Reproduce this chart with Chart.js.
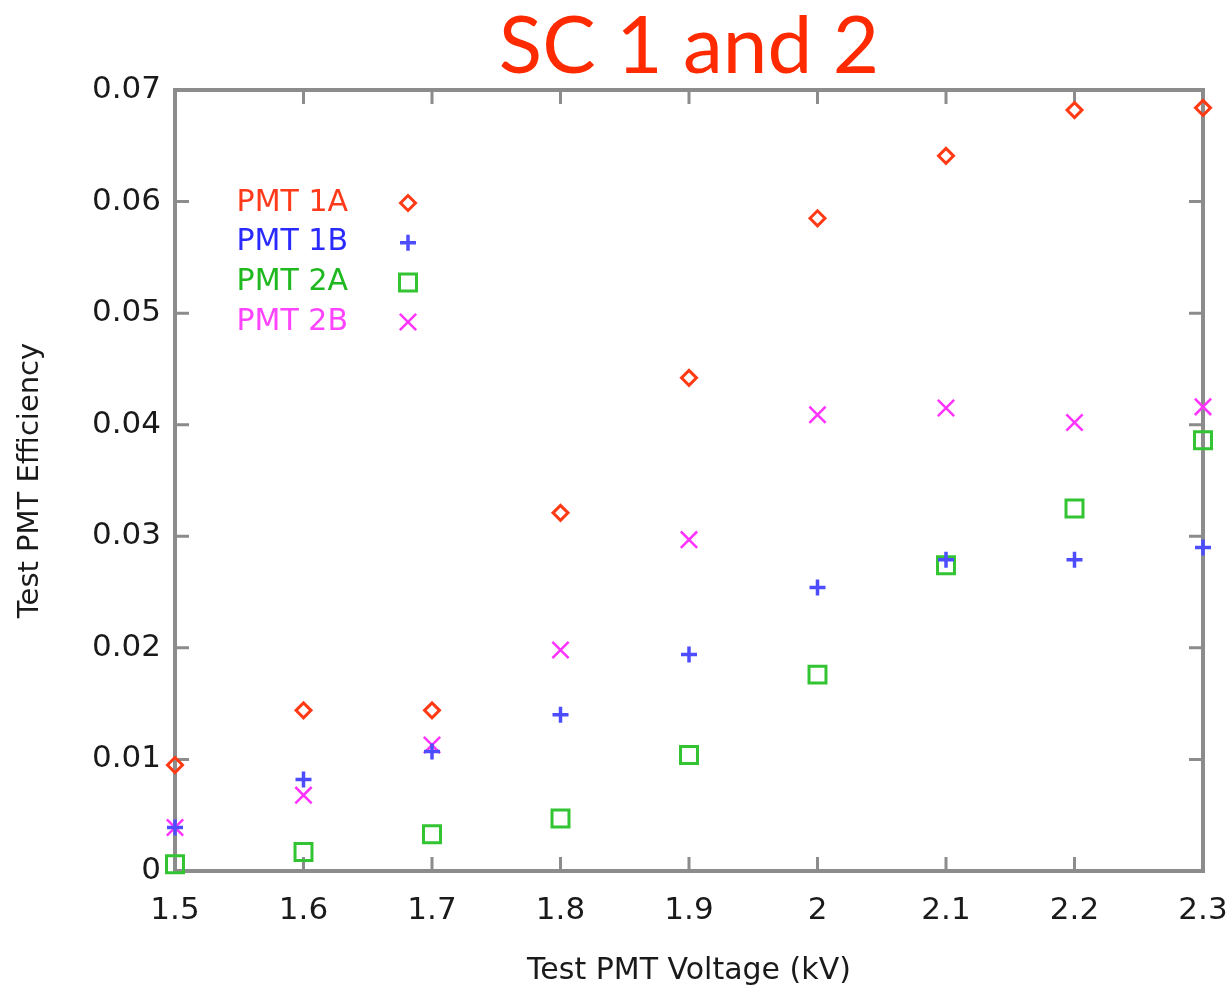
<!DOCTYPE html>
<html>
<head>
<meta charset="utf-8">
<script src="https://cdn.jsdelivr.net/npm/chart.js@4/dist/chart.umd.min.js"></script>
<style>
  html, body { margin: 0; padding: 0; background: #ffffff; }
  #wrap { width: 1230px; height: 989px; }
</style>
</head>
<body>
<div id="wrap"><canvas id="c" width="1230" height="989"></canvas></div>
<script>
// ---- data ----
const voltages = [1.5, 1.6, 1.7, 1.8, 1.9, 2.0, 2.1, 2.2, 2.3];
const pmt1A = [0.0095, 0.0144, 0.0144, 0.0321, 0.0442, 0.0585, 0.0641, 0.0682, 0.0684];
const pmt1B = [0.0039, 0.0082, 0.0107, 0.0140, 0.0194, 0.0254, 0.0279, 0.0279, 0.0290];
const pmt2A = [0.0006, 0.0017, 0.0033, 0.0047, 0.0104, 0.0176, 0.0274, 0.0325, 0.0386];
const pmt2B = [0.0039, 0.0068, 0.0113, 0.0198, 0.0297, 0.0409, 0.0415, 0.0402, 0.0416];
const seriesNames = ['PMT 1A', 'PMT 1B', 'PMT 2A', 'PMT 2B'];
const xTickLabels = ['1.5', '1.6', '1.7', '1.8', '1.9', '2', '2.1', '2.2', '2.3'];
const yTickLabels = ['0', '0.01', '0.02', '0.03', '0.04', '0.05', '0.06', '0.07'];
const titleText = 'SC 1 and 2';
const xTitle = 'Test PMT Voltage (kV)';
const yTitle = 'Test PMT Efficiency';

const toPoints = arr => arr.map((v, i) => ({ x: voltages[i], y: v }));

const styles = [
  { color: '#ff3a14', text: '#ff3a1a', pointStyle: 'rectRot', radius: 7.5, width: 3 },
  { color: '#4d4dff', text: '#2a2aff', pointStyle: 'cross', radius: 8, width: 3.5 },
  { color: '#33c433', text: '#1fb81f', pointStyle: 'rect', radius: 12, width: 3 },
  { color: '#ff33ff', text: '#ff44ff', pointStyle: 'crossRot', radius: 11.5, width: 2.5 }
];
const seriesData = [pmt1A, pmt1B, pmt2A, pmt2B];

const datasets = seriesData.map((d, i) => ({
  label: seriesNames[i],
  data: toPoints(d),
  showLine: false,
  pointStyle: styles[i].pointStyle,
  pointRadius: styles[i].radius,
  pointHoverRadius: styles[i].radius,
  pointBorderWidth: styles[i].width,
  pointBorderColor: styles[i].color,
  pointBackgroundColor: 'rgba(0,0,0,0)',
  clip: false
}));

const AXIS_COLOR = '#8c8c8c';
const TICK_LEN = 14;

function drawMarker(ctx, style, x, y, r) {
  ctx.beginPath();
  if (style === 'rectRot') {
    ctx.moveTo(x - r, y); ctx.lineTo(x, y - r); ctx.lineTo(x + r, y); ctx.lineTo(x, y + r); ctx.closePath();
  } else if (style === 'cross') {
    ctx.moveTo(x, y - r); ctx.lineTo(x, y + r); ctx.moveTo(x - r, y); ctx.lineTo(x + r, y);
  } else if (style === 'rect') {
    const s = Math.SQRT1_2 * r; ctx.rect(x - s, y - s, 2 * s, 2 * s);
  } else if (style === 'crossRot') {
    const s = Math.SQRT1_2 * r;
    ctx.moveTo(x - s, y - s); ctx.lineTo(x + s, y + s); ctx.moveTo(x - s, y + s); ctx.lineTo(x + s, y - s);
  }
  ctx.stroke();
}

const framePlugin = {
  id: 'frame',
  beforeDatasetsDraw(chart) {
    const { ctx, chartArea: a, scales } = chart;
    ctx.save();
    ctx.strokeStyle = AXIS_COLOR;
    ctx.lineWidth = 3;
    scales.x.ticks.forEach(t => {
      const px = scales.x.getPixelForValue(t.value);
      ctx.beginPath();
      ctx.moveTo(px, a.bottom); ctx.lineTo(px, a.bottom - TICK_LEN);
      ctx.moveTo(px, a.top); ctx.lineTo(px, a.top + TICK_LEN);
      ctx.stroke();
    });
    scales.y.ticks.forEach(t => {
      const py = scales.y.getPixelForValue(t.value);
      ctx.beginPath();
      ctx.moveTo(a.left, py); ctx.lineTo(a.left + TICK_LEN, py);
      ctx.moveTo(a.right, py); ctx.lineTo(a.right - TICK_LEN, py);
      ctx.stroke();
    });
    ctx.lineWidth = 4;
    ctx.strokeRect(a.left, a.top, a.right - a.left, a.bottom - a.top);
    ctx.restore();
  },
  afterDatasetsDraw(chart) {
    const { ctx, chartArea: a } = chart;
    ctx.save();
    ctx.font = '30px "DejaVu Sans", sans-serif';
    ctx.textAlign = 'right';
    ctx.textBaseline = 'middle';
    const textRight = a.left + 173;
    const markX = a.left + 233;
    seriesNames.forEach((name, i) => {
      const y = a.top + 113 + i * 39.7;
      ctx.fillStyle = styles[i].text;
      ctx.fillText(name, textRight, y);
      ctx.strokeStyle = styles[i].color;
      ctx.lineWidth = styles[i].width;
      drawMarker(ctx, styles[i].pointStyle, markX, y, styles[i].radius);
    });
    ctx.restore();
  }
};

new Chart(document.getElementById('c'), {
  type: 'scatter',
  data: { datasets },
  options: {
    responsive: false,
    animation: false,
    layout: { padding: { left: 0, right: 27, top: 0, bottom: 0 } },
    plugins: {
      legend: { display: false },
      tooltip: { enabled: false },
      title: {
        display: true,
        text: titleText,
        fullSize: false,
        color: '#ff2a00',
        font: { family: 'Lato, "Open Sans", sans-serif', size: 80, weight: 'normal', lineHeight: 1.0 },
        padding: { top: 7, bottom: 3 }
      }
    },
    scales: {
      x: {
        type: 'linear',
        min: 1.5, max: 2.3,
        grid: { display: false, drawTicks: false },
        border: { display: false },
        ticks: {
          stepSize: 0.1,
          padding: 21,
          color: '#1a1a1a',
          font: { family: '"DejaVu Sans", sans-serif', size: 31 },
          callback: (v, i) => xTickLabels[i]
        },
        title: {
          display: true, text: xTitle, color: '#1a1a1a',
          font: { family: '"DejaVu Sans", sans-serif', size: 30 },
          padding: { top: 0, bottom: 0 }
        },
        afterFit(scale) { scale.height = 118; scale.paddingLeft = 0; scale.paddingRight = 0; }
      },
      y: {
        type: 'linear',
        min: 0, max: 0.07,
        grid: { display: false, drawTicks: false },
        border: { display: false },
        ticks: {
          stepSize: 0.01,
          padding: 14,
          color: '#1a1a1a',
          font: { family: '"DejaVu Sans", sans-serif', size: 31 },
          callback: (v, i) => yTickLabels[i]
        },
        title: {
          display: true, text: yTitle, color: '#1a1a1a',
          font: { family: '"DejaVu Sans", sans-serif', size: 29 },
          padding: { top: 13, bottom: 0 }
        },
        afterFit(scale) { scale.width = 175; scale.paddingTop = 0; scale.paddingBottom = 0; }
      }
    }
  },
  plugins: [framePlugin]
});
</script>
</body>
</html>
